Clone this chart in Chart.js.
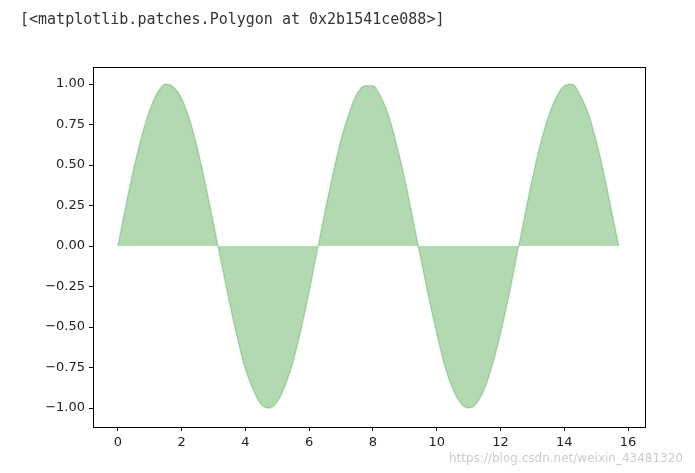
<!DOCTYPE html>
<html>
<head>
<meta charset="utf-8">
<script src="https://cdn.jsdelivr.net/npm/chart.js@4"></script>
<style>
  body { margin: 0; background: #fff; }
  #wrap { position: relative; width: 695px; height: 473px; }
  #label { position: absolute; left: 20px; top: 10px; font: 15px "DejaVu Sans Mono", monospace; color: #333; }
  #mark { position: absolute; right: 12px; bottom: 8px; font: 12px "DejaVu Sans", sans-serif; color: #ccc; }
</style>
</head>
<body>
<div id="wrap">
  <canvas id="plot" width="695" height="473"></canvas>
  <div id="label">[&lt;matplotlib.patches.Polygon at 0x2b1541ce088&gt;]</div>
  <div id="mark">https://blog.csdn.net/weixin_43481320</div>
</div>
<script>
// values
var xs = [0, 0.25, 0.5, 0.75, 1, 1.25, 1.5, 1.75, 2, 2.25, 2.5, 2.75, 3, 3.25, 3.5, 3.75,
  4, 4.25, 4.5, 4.75, 5, 5.25, 5.5, 5.75, 6, 6.25, 6.5, 6.75, 7, 7.25, 7.5, 7.75,
  8, 8.25, 8.5, 8.75, 9, 9.25, 9.5, 9.75, 10, 10.25, 10.5, 10.75, 11, 11.25, 11.5, 11.75,
  12, 12.25, 12.5, 12.75, 13, 13.25, 13.5, 13.75, 14, 14.25, 14.5, 14.75, 15, 15.25, 15.5, 15.71];
var ys = [0, 0.25, 0.48, 0.68, 0.84, 0.95, 1.0, 0.98, 0.91, 0.78, 0.60, 0.38, 0.14, -0.11, -0.35, -0.57,
  -0.76, -0.89, -0.98, -1.0, -0.96, -0.86, -0.71, -0.51, -0.28, -0.03, 0.22, 0.45, 0.66, 0.82, 0.94, 0.99,
  0.99, 0.92, 0.80, 0.62, 0.41, 0.17, -0.08, -0.32, -0.54, -0.74, -0.88, -0.97, -1.0, -0.97, -0.88, -0.73,
  -0.54, -0.32, -0.07, 0.18, 0.42, 0.63, 0.80, 0.92, 0.99, 1.0, 0.93, 0.82, 0.65, 0.44, 0.20, 0];

var points = xs.map(function (x, i) { return { x: x, y: ys[i] }; });

var frame = {
  id: 'frame',
  afterDraw: function (chart) {
    var a = chart.chartArea, c = chart.ctx;
    c.save();
    c.strokeStyle = '#000';
    c.lineWidth = 1;
    c.strokeRect(Math.round(a.left) + 0.5, Math.round(a.top) + 0.5, Math.round(a.right - a.left), Math.round(a.bottom - a.top));
    c.restore();
  }
};

var tickFont = { family: 'DejaVu Sans', size: 13 };

new Chart(document.getElementById('plot'), {
  type: 'line',
  data: {
    datasets: [{
      data: points,
      fill: 'origin',
      backgroundColor: 'rgba(0,128,0,0.3)',
      borderColor: 'rgba(0,128,0,0.22)',
      borderWidth: 1.5,
      pointRadius: 0,
      cubicInterpolationMode: 'monotone'
    }]
  },
  options: {
    responsive: false,
    animation: false,
    layout: { padding: { left: 0, right: 50, top: 67, bottom: 0 } },
    plugins: { legend: { display: false }, tooltip: { enabled: false } },
    scales: {
      x: {
        type: 'linear',
        min: -0.78, max: 16.53,
        afterFit: function (s) { s.height = 46; },
        grid: { drawOnChartArea: false, tickLength: 4, color: '#000' },
        border: { display: false },
        ticks: { stepSize: 2, includeBounds: false, color: '#222', font: tickFont, padding: 4 }
      },
      y: {
        min: -1.117, max: 1.105,
        afterFit: function (s) { s.width = 93; },
        grid: { drawOnChartArea: false, tickLength: 4, color: '#000' },
        border: { display: false },
        ticks: {
          stepSize: 0.25, includeBounds: false, color: '#222', font: tickFont, padding: 4,
          callback: function (v) { return v.toFixed(2).replace('-', '\u2212'); }
        }
      }
    }
  },
  plugins: [frame]
});
</script>
</body>
</html>
